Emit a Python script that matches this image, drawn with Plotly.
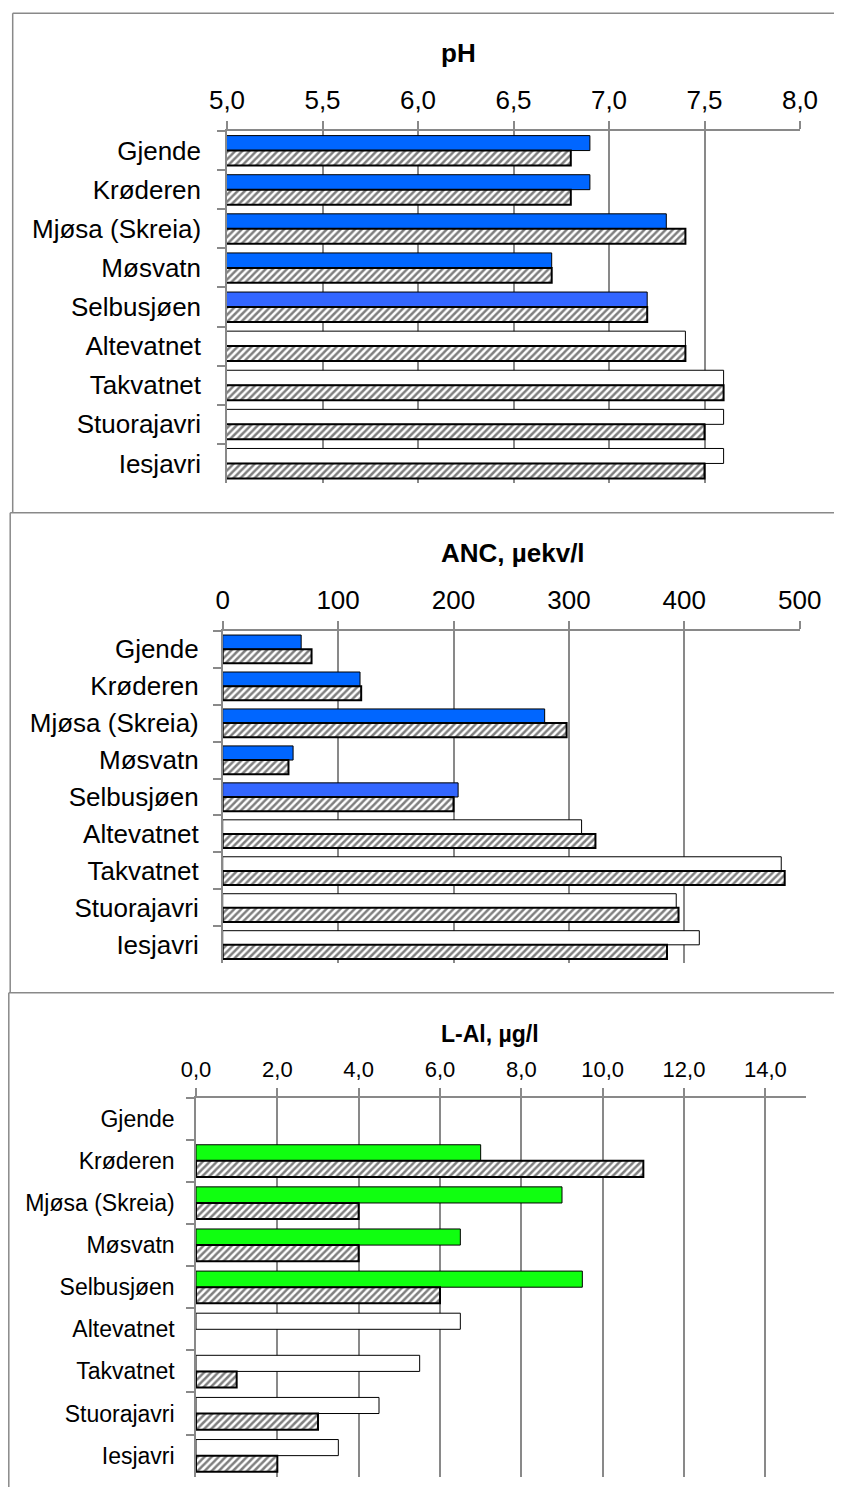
import plotly.graph_objects as go

# page body adds an 8 px offset; figure sized so the page needs no scrollbars
OFF = 8
W, H = 842 - 2 * OFF, 1495 - 2 * OFF

lakes = ["Gjende", "Krøderen", "Mjøsa (Skreia)", "Møsvatn", "Selbusjøen",
         "Altevatnet", "Takvatnet", "Stuorajavri", "Iesjavri"]

# pH
ph_s1 = [6.9, 6.9, 7.3, 6.7, 7.2, 7.4, 7.6, 7.6, 7.6]
ph_s2 = [6.8, 6.8, 7.4, 6.7, 7.2, 7.4, 7.6, 7.5, 7.5]
# ANC, µekv/l
anc_s1 = [68, 119, 279, 61, 204, 311, 484, 393, 413]
anc_s2 = [77, 120, 298, 57, 200, 323, 487, 395, 385]
# L-Al, µg/l
lal_s1 = [None, 7.0, 9.0, 6.5, 9.5, 6.5, 5.5, 4.5, 3.5]
lal_s2 = [None, 11.0, 4.0, 4.0, 6.0, None, 1.0, 3.0, 2.0]

blue_colors = ["#0066FF", "#0066FF", "#0066FF", "#0066FF", "#3366FF",
               "#FFFFFF", "#FFFFFF", "#FFFFFF", "#FFFFFF"]
green_colors = ["#10FF10", "#10FF10", "#10FF10", "#10FF10", "#10FF10",
                "#FFFFFF", "#FFFFFF", "#FFFFFF", "#FFFFFF"]

titles = ["pH", "ANC, µekv/l", "L-Al, µg/l"]

FONT = "Liberation Sans, Arial, sans-serif"
GRAY = "#898989"


def px_x(p):
    return (p - OFF) / W


def px_y(p):
    return 1 - (p - OFF) / H


fig = go.Figure()

panels = [
    dict(s1=ph_s1, s2=ph_s2, colors=blue_colors, x0=227, x1=800, y0=131, y1=483,
         rng=[5, 8], tickvals=[5.0, 5.5, 6.0, 6.5, 7.0, 7.5, 8.0], fmt=".1f",
         fs=26, tfs=26, title_y=53, ystand=19, xa="x", ya="y"),
    dict(s1=anc_s1, s2=anc_s2, colors=blue_colors, x0=222.7, x1=799.7, y0=630.7, y1=963.3,
         rng=[0, 500], tickvals=[0, 100, 200, 300, 400, 500], fmt="d",
         fs=26, tfs=26, title_y=553, ystand=17, xa="x2", ya="y2"),
    dict(s1=lal_s1, s2=lal_s2, colors=green_colors, x0=196, x1=806, y0=1097.7, y1=1476.7,
         rng=[0, 15], tickvals=[0, 2, 4, 6, 8, 10, 12, 14], fmt=".1f",
         fs=23, tfs=22, title_y=1034, ystand=15, xa="x3", ya="y3"),
]

for i, p in enumerate(panels):
    fig.add_trace(go.Bar(
        y=lakes, x=p["s1"], orientation="h", xaxis=p["xa"], yaxis=p["ya"],
        marker=dict(color=p["colors"], line=dict(color="black", width=1)),
        showlegend=False, name="Serie 1", hoverinfo="x+y"))
    fig.add_trace(go.Bar(
        y=lakes, x=p["s2"], orientation="h", xaxis=p["xa"], yaxis=p["ya"],
        marker=dict(color="white", line=dict(color="black", width=2),
                    pattern=dict(shape="/", fgcolor="black", bgcolor="white",
                                 size=5, solidity=0.5)),
        showlegend=False, name="Serie 2", hoverinfo="x+y"))

    suffix = "" if i == 0 else str(i + 1)
    fig.update_layout(**{
        "xaxis" + suffix: dict(
            domain=[px_x(p["x0"]), px_x(p["x1"])], range=p["rng"], side="top",
            anchor="y" + suffix, tickvals=p["tickvals"], tickformat=p["fmt"],
            automargin=False,
            showgrid=True, gridcolor=GRAY, gridwidth=1.5, zeroline=False,
            showline=True, linecolor=GRAY, linewidth=1.5,
            ticks="outside", ticklen=8, tickwidth=1.5, tickcolor=GRAY,
            ticklabelstandoff=2,
            tickfont=dict(family=FONT, size=p["tfs"], color="black"), fixedrange=True),
        "yaxis" + suffix: dict(
            domain=[px_y(p["y1"]), px_y(p["y0"])], type="category",
            categoryorder="array", categoryarray=lakes, autorange="reversed",
            anchor="x" + suffix, showgrid=False, zeroline=False, automargin=False,
            showline=True, linecolor=GRAY, linewidth=1.5,
            ticks="outside", tickson="boundaries", ticklen=8, tickwidth=1.5, tickcolor=GRAY,
            ticklabelstandoff=p["ystand"],
            tickfont=dict(family=FONT, size=p["fs"], color="black"), fixedrange=True),
    })
    fig.add_annotation(text="<b>" + titles[i] + "</b>", xref="paper", yref="paper",
                       x=px_x(439), y=px_y(p["title_y"]), xanchor="left", yanchor="middle",
                       showarrow=False, font=dict(family=FONT, size=p["fs"], color="black"))

# panel frames (left x, top y, bottom y) in page pixels
frames = [
    (12.7, 13.3, 512.7),
    (10.2, 512.7, 992.7),
    (8.8, 992.7, 1510),
]
for (lx, ty, by) in frames:
    fig.add_shape(type="line", xref="paper", yref="paper",
                  x0=px_x(lx), x1=1.02, y0=px_y(ty), y1=px_y(ty),
                  line=dict(color=GRAY, width=1.5))
    fig.add_shape(type="line", xref="paper", yref="paper",
                  x0=px_x(lx), x1=px_x(lx), y0=px_y(ty), y1=px_y(by),
                  line=dict(color=GRAY, width=1.5))

fig.update_layout(
    width=W, height=H, margin=dict(l=0, r=0, t=0, b=0, autoexpand=False),
    paper_bgcolor="white", plot_bgcolor="white",
    barmode="group", bargap=0.235, bargroupgap=0,
    separators=", ", font=dict(family=FONT, color="black"),
)

fig.write_html("out.html")
